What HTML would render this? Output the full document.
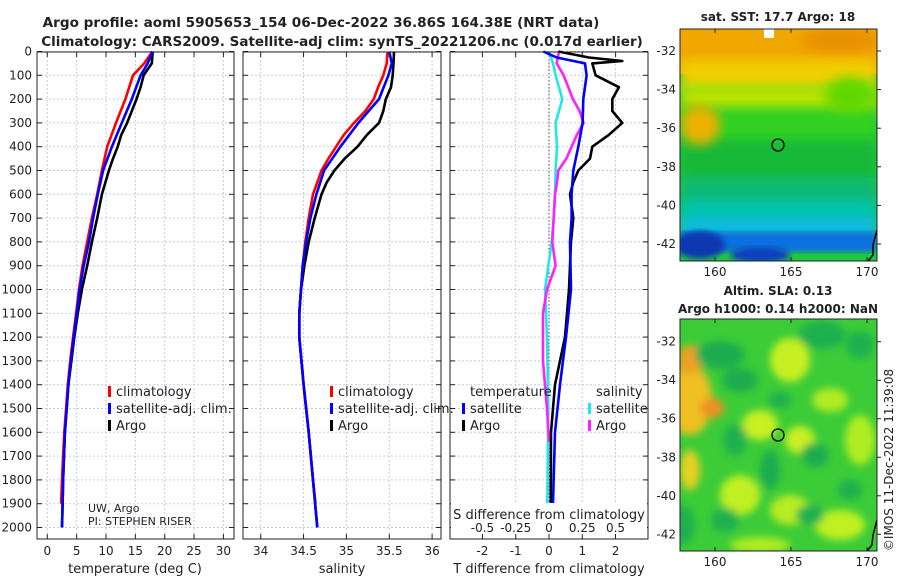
<!DOCTYPE html>
<html><head><meta charset="utf-8"><style>
html,body{margin:0;padding:0;background:#fff;width:900px;height:580px;overflow:hidden}
svg text{font-family:"DejaVu Sans","Liberation Sans",sans-serif;fill:#222}
</style></head><body>
<svg id="fig" width="900" height="580" xmlns="http://www.w3.org/2000/svg">
<defs>
<filter id="blur6" x="-20%" y="-20%" width="140%" height="140%"><feGaussianBlur stdDeviation="6"/></filter>
<filter id="blur4" x="-30%" y="-30%" width="160%" height="160%"><feGaussianBlur stdDeviation="4"/></filter>
<filter id="blur3"><feGaussianBlur stdDeviation="3"/></filter>
<clipPath id="clipM1"><rect x="680" y="29" width="197" height="232"/></clipPath>
<clipPath id="clipM2"><rect x="680" y="319" width="197" height="232"/></clipPath>
</defs>
<text x="321" y="27" text-anchor="middle" font-size="13.6" font-weight="bold">Argo profile: aoml 5905653_154 06-Dec-2022 36.86S 164.38E (NRT data)</text>
<text x="342" y="46" text-anchor="middle" font-size="13.5" font-weight="bold">Climatology: CARS2009. Satellite-adj clim: synTS_20221206.nc (0.017d earlier)</text>
<g id="p1"></g>
<g id="p2"></g>
<g id="p3"></g>

<!-- Map 1 SST -->
<g clip-path="url(#clipM1)">
<rect x="680" y="29" width="197" height="232" fill="#20c840"/>
<rect x="680" y="29" width="197" height="45" fill="#f0a800"/>
<rect x="680" y="60" width="197" height="30" fill="#f0d000" filter="url(#blur6)"/>
<rect x="680" y="85" width="197" height="30" fill="#b8e400" filter="url(#blur6)"/>
<rect x="680" y="108" width="197" height="40" fill="#30d020" filter="url(#blur6)"/>
<rect x="680" y="140" width="197" height="40" fill="#18b838" filter="url(#blur6)"/>
<rect x="680" y="178" width="197" height="30" fill="#10b878" filter="url(#blur6)"/>
<rect x="680" y="200" width="197" height="25" fill="#00c4b4" filter="url(#blur6)"/>
<rect x="680" y="218" width="197" height="20" fill="#10b8e8" filter="url(#blur6)"/>
<rect x="680" y="232" width="197" height="20" fill="#1070e0" filter="url(#blur3)"/>
<ellipse cx="700" cy="245" rx="25" ry="14" fill="#0838b0" filter="url(#blur3)"/>
<ellipse cx="760" cy="255" rx="30" ry="8" fill="#1040c0" filter="url(#blur3)"/>
<ellipse cx="700" cy="125" rx="20" ry="20" fill="#f0b000" filter="url(#blur6)"/>
<ellipse cx="840" cy="40" rx="40" ry="12" fill="#e89000" filter="url(#blur6)"/>
<ellipse cx="850" cy="95" rx="25" ry="18" fill="#60d800" filter="url(#blur6)"/>
<rect x="764" y="29" width="10" height="9" fill="#fff"/>
<path d="M877,230 L873,245 L873,255 L868,261" stroke="#000" stroke-width="1.5" fill="none"/>
</g>
<rect x="680" y="29" width="197" height="232" fill="none" stroke="#222"/>
<circle cx="778" cy="145" r="6" fill="none" stroke="#000" stroke-width="1.3"/>
<text x="778" y="21" text-anchor="middle" font-size="12" font-weight="bold">sat. SST: 17.7 Argo: 18</text>

<!-- Map 2 SLA -->
<g clip-path="url(#clipM2)">
<rect x="680" y="319" width="197" height="232" fill="#3ccc38"/>
<g filter="url(#blur4)">
<ellipse cx="690" cy="400" rx="22" ry="35" fill="#f0c020"/>
<ellipse cx="712" cy="408" rx="12" ry="10" fill="#f09020"/>
<ellipse cx="690" cy="360" rx="12" ry="15" fill="#f0a020"/>
<ellipse cx="690" cy="470" rx="10" ry="20" fill="#e8d020"/>
<ellipse cx="790" cy="360" rx="20" ry="22" fill="#c8f020"/>
<ellipse cx="760" cy="425" rx="18" ry="15" fill="#c8f020"/>
<ellipse cx="800" cy="440" rx="15" ry="14" fill="#c8f020"/>
<ellipse cx="830" cy="400" rx="18" ry="12" fill="#b0ec20"/>
<ellipse cx="860" cy="440" rx="15" ry="25" fill="#b0ec20"/>
<ellipse cx="740" cy="495" rx="20" ry="20" fill="#c0f020"/>
<ellipse cx="790" cy="510" rx="20" ry="15" fill="#b8ec20"/>
<ellipse cx="840" cy="525" rx="25" ry="15" fill="#c0f020"/>
<ellipse cx="760" cy="545" rx="30" ry="8" fill="#b0ec20"/>
<ellipse cx="720" cy="355" rx="25" ry="14" fill="#1cac50"/>
<ellipse cx="740" cy="380" rx="18" ry="12" fill="#1cac50"/>
<ellipse cx="815" cy="455" rx="14" ry="12" fill="#1cac50"/>
<ellipse cx="770" cy="470" rx="10" ry="20" fill="#1cac50"/>
<ellipse cx="822" cy="335" rx="24" ry="14" fill="#1cb050"/>
<ellipse cx="860" cy="345" rx="14" ry="14" fill="#1cb050"/>
<ellipse cx="680" cy="525" rx="15" ry="20" fill="#1cb050"/>
<ellipse cx="810" cy="515" rx="14" ry="10" fill="#1cb050"/>
<ellipse cx="725" cy="520" rx="14" ry="12" fill="#1cb050"/>
<ellipse cx="735" cy="440" rx="12" ry="16" fill="#1cb050"/>
<ellipse cx="780" cy="400" rx="12" ry="8" fill="#1cb050"/>
<ellipse cx="850" cy="490" rx="12" ry="10" fill="#1cb050"/>
</g>
<path d="M877,520 L873,535 L872,545 L867,551" stroke="#000" stroke-width="1.5" fill="none"/>
</g>
<rect x="680" y="319" width="197" height="232" fill="none" stroke="#222"/>
<circle cx="778" cy="435" r="6" fill="none" stroke="#000" stroke-width="1.3"/>
<text x="778" y="295" text-anchor="middle" font-size="12" font-weight="bold">Altim. SLA: 0.13</text>
<text x="778" y="313" text-anchor="middle" font-size="12" font-weight="bold">Argo h1000: 0.14 h2000: NaN</text>
<g id="maxes"></g>
<text transform="translate(893,460) rotate(-90)" text-anchor="middle" font-size="12">©IMOS 11-Dec-2022 11:39:08</text>
<text x="88" y="512" font-size="11">UW, Argo</text>
<text x="88" y="525" font-size="11">PI: STEPHEN RISER</text>
</svg>
<script>
// ---- data ----
const tDepthArgo=[0,50,100,150,200,250,300,350,400,450,500,600,700,800,900,1000,1100,1200,1300,1400,1500,1600,1700,1800,1900,2000];
const tArgo=[17.95,17.8,16.4,15.9,15.2,14.4,13.6,12.6,12.0,11.2,10.5,9.3,8.5,7.6,6.8,5.9,5.2,4.6,4.1,3.6,3.3,3.0,2.85,2.7,2.6,2.5];
const tDepthClim=[0,50,100,200,300,400,500,600,700,800,900,1000,1100,1200,1300,1400,1500,1600,1700,1800,1900];
const tClim=[17.9,16.5,14.6,13.3,11.7,10.2,9.3,8.5,7.6,6.8,6.0,5.4,4.9,4.4,3.9,3.5,3.2,2.9,2.7,2.5,2.35];
const tDepthSat=[0,50,100,200,300,400,500,600,700,800,900,1000,1100,1200,1300,1400,1500,1600,1700,1800,1900,2000];
const tSat=[17.9,17.1,15.9,14.4,12.7,11.0,9.5,8.6,7.8,7.1,6.2,5.5,5.0,4.5,4.0,3.6,3.3,3.0,2.85,2.7,2.6,2.5];
const sDepthArgo=[0,50,100,150,200,250,300,350,400,450,500,550,600,700,800,900,1000,1100,1200,1400,1600,1800,2000];
const sArgo=[35.555,35.55,35.54,35.52,35.46,35.43,35.38,35.24,35.13,34.98,34.86,34.77,34.71,34.63,34.56,34.51,34.47,34.45,34.45,34.5,34.56,34.61,34.66];
const sDepthClim=[0,50,100,150,200,250,300,350,400,450,500,600,700,800,900,1000,1100,1200,1400,1600,1800,1900];
const sClim=[35.48,35.47,35.43,35.37,35.32,35.22,35.09,34.97,34.88,34.79,34.71,34.61,34.56,34.52,34.49,34.47,34.45,34.45,34.5,34.56,34.61,34.64];
const sDepthSat=[0,50,100,200,300,400,500,600,700,800,900,1000,1100,1200,1400,1600,1800,2000];
const sSat=[35.5,35.53,35.49,35.38,35.14,34.93,34.74,34.65,34.58,34.53,34.49,34.47,34.45,34.45,34.5,34.56,34.61,34.66];
const dtDepthArgo=[0,25,40,50,100,150,200,250,300,350,400,450,500,550,600,700,800,1000,1200,1300,1400,1500,1600,2000];
const dtArgo=[0.28,1.2,2.2,1.3,1.4,2.1,1.9,1.9,2.2,1.8,1.3,1.23,0.88,0.73,0.63,0.73,0.66,0.6,0.48,0.33,0.18,0.12,0.06,0.05];
const dtDepthSat=[0,25,50,100,200,300,400,500,600,700,800,1000,1200,1400,1600,2000];
const dtSat=[-0.17,0.23,1.08,1.13,1.03,1.01,0.88,0.73,0.68,0.68,0.63,0.66,0.51,0.33,0.18,0.1];
const dsDepthArgo=[0,50,100,150,200,250,300,350,400,450,500,550,600,700,800,900,1000,1100,1200,1300,1400,1500,1640];
const dsArgo=[0.075,0.058,0.11,0.145,0.18,0.23,0.26,0.21,0.17,0.13,0.07,0.06,0.045,0.035,0.025,0.05,-0.015,-0.045,-0.045,-0.045,-0.03,-0.015,0.0];
const dsDepthSat=[0,50,100,200,300,400,500,600,700,800,1000,1200,1500,2000];
const dsSat=[0,0.03,0.05,0.1,0.05,0.06,0.05,0.045,0.035,0.02,-0.03,-0.015,-0.005,-0.015];
const depthTicks=[0,100,200,300,400,500,600,700,800,900,1000,1100,1200,1300,1400,1500,1600,1700,1800,1900,2000];
const tTicks=[0,5,10,15,20,25,30];
const sTicks=[34,34.5,35,35.5,36];
const sTickLabels=["34","34.5","35","35.5","36"];
const dtTicks=[-2,-1,0,1,2];
const dsTicks=[-0.5,-0.25,0,0.25,0.5];
const dsTickLabels=["-0.5","-0.25","0","0.25","0.5"];
const lonTicks=[160,165,170];
const latTicks=[-32,-34,-36,-38,-40,-42];

const NS="http://www.w3.org/2000/svg";
function mk(parent,tag,attrs,txt){const e=document.createElementNS(NS,tag);for(const k in attrs)e.setAttribute(k,attrs[k]);if(txt!==undefined)e.textContent=txt;parent.appendChild(e);return e;}
const yD=d=>51.5+d*0.238;
const TOP=52, BOT=539;

function panel(g,x0,x1,xs,ticks,labels,leftLabels){
  for(const d of depthTicks){
    const gl=mk(g,'line',{x1:x0,x2:x1,y1:yD(d),y2:yD(d),stroke:'#c4cbe6','stroke-dasharray':'2,2','stroke-width':1});
    
    
    mk(g,'line',{x1:x0,x2:x0+5,y1:yD(d),y2:yD(d),stroke:'#222'});
    mk(g,'line',{x1:x1-5,x2:x1,y1:yD(d),y2:yD(d),stroke:'#222'});
    if(leftLabels){
      const t=mk(g,'text',{x:x0-5,y:yD(d)+4,'text-anchor':'end','font-size':12},String(d));
      
      
    }
  }
  ticks.forEach((v,i)=>{
    const x=xs(v);
    const gl=mk(g,'line',{x1:x,x2:x,y1:TOP,y2:BOT,stroke:'#c4cbe6','stroke-dasharray':'2,2'});
    
    
    mk(g,'line',{x1:x,x2:x,y1:BOT,y2:BOT-5,stroke:'#222'});
    mk(g,'line',{x1:x,x2:x,y1:TOP,y2:TOP+5,stroke:'#222'});
    const t=mk(g,'text',{x:x,y:555,'text-anchor':'middle','font-size':12},labels[i]);
    
    
  });
  const f=mk(g,'rect',{x:x0,y:TOP,width:x1-x0,height:BOT-TOP,fill:'none',stroke:'#222'});
  
  
}
function line(g,xs,vals,deps,color,name){
  const p=vals.map((v,i)=>(i?'L':'M')+xs(v).toFixed(1)+','+yD(deps[i]).toFixed(1)).join(' ');
  const e=mk(g,'path',{d:p,fill:'none',stroke:color,'stroke-width':2.6,'stroke-linejoin':'round'});
  
  
}
function legend(g,x,y,color,label,name){
  mk(g,'rect',{x:x,y:y-10,width:3,height:11,fill:color});
  const t=mk(g,'text',{x:x+8,y:y,'font-size':13},label);
  
  
}
// panel 1
const p1=document.getElementById('p1');
const xT=v=>47.3+v*5.87;
panel(p1,37,234,xT,tTicks,tTicks.map(String),true);
line(p1,xT,tArgo,tDepthArgo,'#000','temperature-argo-line');
line(p1,xT,tClim,tDepthClim,'#f00','temperature-climatology-line');
line(p1,xT,tSat,tDepthSat,'#00f','temperature-satellite-line');
legend(p1,108,396,'#f00','climatology','legend-climatology');
legend(p1,108,413,'#00f','satellite-adj. clim.','legend-satellite');
legend(p1,108,430,'#000','Argo','legend-argo');
let t=mk(p1,'text',{x:135,y:573,'text-anchor':'middle','font-size':13},'temperature (deg C)');


// panel 2
const p2=document.getElementById('p2');
const xS=v=>260.7+(v-34)*85.7;
panel(p2,243,441,xS,sTicks,sTickLabels,false);
line(p2,xS,sArgo,sDepthArgo,'#000','salinity-argo-line');
line(p2,xS,sClim,sDepthClim,'#f00','salinity-climatology-line');
line(p2,xS,sSat,sDepthSat,'#00f','salinity-satellite-line');
legend(p2,330,396,'#f00','climatology','legend-climatology');
legend(p2,330,413,'#00f','satellite-adj. clim.','legend-satellite');
legend(p2,330,430,'#000','Argo','legend-argo');
t=mk(p2,'text',{x:342,y:573,'text-anchor':'middle','font-size':13},'salinity');


// panel 3
const p3=document.getElementById('p3');
const xDT=v=>549+v*33.3;
const xDS=v=>549+v*133;
panel(p3,450,648,xDT,dtTicks,dtTicks.map(String),false);
const zl=mk(p3,'line',{x1:549,x2:549,y1:TOP,y2:BOT,stroke:'#555','stroke-dasharray':'1.5,2'});


line(p3,xDS,dsSat,dsDepthSat,'#20e8e8','salinity-diff-satellite-line');
line(p3,xDS,dsArgo,dsDepthArgo,'#ff20ff','salinity-diff-argo-line');
line(p3,xDT,dtArgo,dtDepthArgo,'#000','temperature-diff-argo-line');
line(p3,xDT,dtSat,dtDepthSat,'#00f','temperature-diff-satellite-line');
mk(p3,'rect',{x:451,y:503,width:196,height:35,fill:'#fff'});
dsTicks.forEach((v,i)=>{
  mk(p3,'line',{x1:xDS(v),x2:xDS(v),y1:BOT,y2:BOT-5,stroke:'#222'});
  const tt=mk(p3,'text',{x:xDS(v),y:532,'text-anchor':'middle','font-size':12},dsTickLabels[i]);
  
  
});
t=mk(p3,'text',{x:549,y:519,'text-anchor':'middle','font-size':13},'S difference from climatology');


t=mk(p3,'text',{x:549,y:573,'text-anchor':'middle','font-size':13},'T difference from climatology');


t=mk(p3,'text',{x:470,y:396,'font-size':13},'temperature');


t=mk(p3,'text',{x:596,y:396,'font-size':13},'salinity');


legend(p3,462,413,'#00f','satellite','legend-t-satellite');
legend(p3,462,430,'#000','Argo','legend-t-argo');
legend(p3,588,413,'#20e8e8','satellite','legend-s-satellite');
legend(p3,588,430,'#ff20ff','Argo','legend-s-argo');
mk(p3,'rect',{x:450,y:TOP,width:198,height:BOT-TOP,fill:'none',stroke:'#222'});
// map axes
const ma=document.getElementById('maxes');
const xLon=v=>715+(v-160)*15.2;
function mapAxes(top,bot,lat0y,step){
  lonTicks.forEach(v=>{
    mk(ma,'line',{x1:xLon(v),x2:xLon(v),y1:bot,y2:bot-4,stroke:'#222'});
    mk(ma,'line',{x1:xLon(v),x2:xLon(v),y1:top,y2:top+4,stroke:'#222'});
    const tt=mk(ma,'text',{x:xLon(v),y:bot+15,'text-anchor':'middle','font-size':12},String(v));
    
    
  });
  latTicks.forEach(v=>{
    const y=lat0y+(-32-v)*step;
    mk(ma,'line',{x1:877,x2:881,y1:y,y2:y,stroke:'#222'});
    const tt=mk(ma,'text',{x:676,y:y+4,'text-anchor':'end','font-size':12},String(v));
    
    
  });
}
mapAxes(29,261,51,19.3);
mapAxes(319,551,341.7,19.26);
</script>
</body></html>
